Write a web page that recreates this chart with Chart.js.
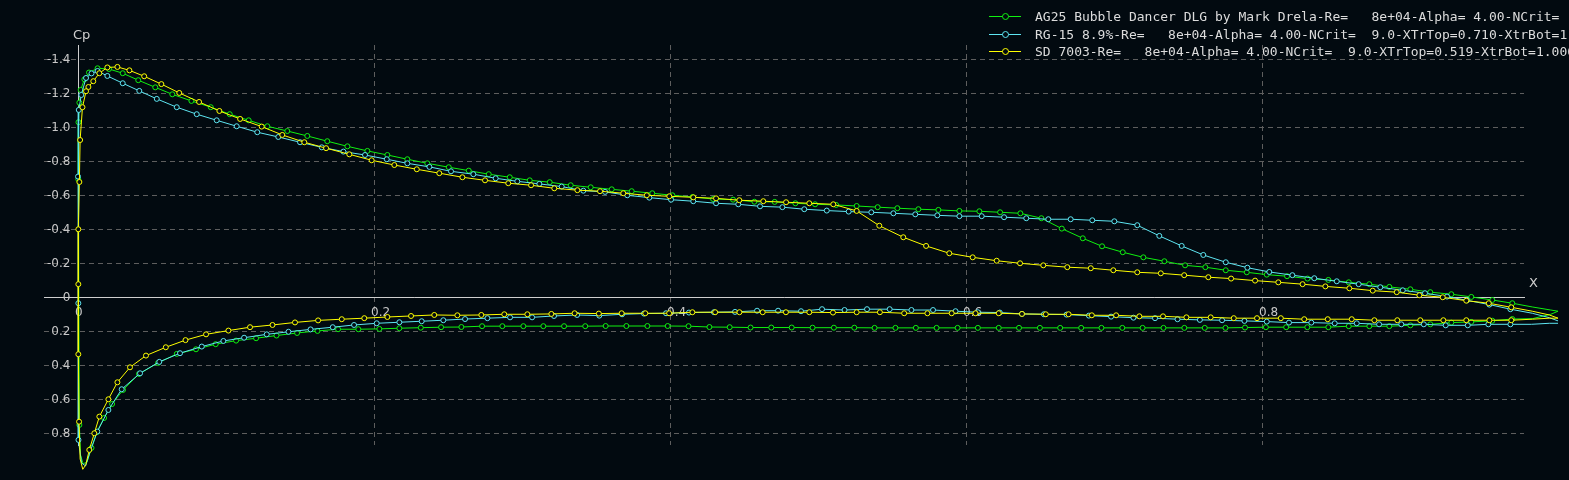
<!DOCTYPE html>
<html>
<head>
<meta charset="utf-8">
<title>Cp distribution</title>
<script src="https://cdn.jsdelivr.net/npm/chart.js@4/dist/chart.umd.min.js"></script>
<style>
  html, body { margin: 0; padding: 0; background: #020a10; overflow: hidden; }
  #wrap { position: relative; width: 1569px; height: 480px; overflow: hidden; }
  #legend { position: absolute; left: 989px; top: 8px; font: 13px 'DejaVu Sans Mono', monospace; color: #dcdcdc; white-space: pre; }
  .row { position: relative; height: 17.5px; line-height: 17.5px; padding-left: 46px; }
  .mk { position: absolute; left: 0; top: 8px; width: 32px; height: 1px; }
  .mk i { position: absolute; left: 13px; top: -3px; width: 5px; height: 5px; border: 1px solid; border-radius: 50%; background: #020a10; }
  .axl { position: absolute; font: 13px 'DejaVu Sans', sans-serif; color: #cfcfcf; }
</style>
</head>
<body>
<div id="wrap">
  <canvas id="cp-canvas"></canvas>
  <div id="legend"></div>
  <div class="axl" style="left:73px; top:27px;">Cp</div>
  <div class="axl" style="left:1529px; top:275px;">X</div>
</div>
<script>
// --- data (upper surface TE -> LE, then lower surface LE -> TE) ---
const ag25X = [
  1.000, 0.9951, 0.9826, 0.9691, 0.9556, 0.9414, 0.9279, 0.9137, 0.9002, 0.8860,
  0.8725, 0.8586, 0.8448, 0.8307, 0.8169, 0.8032, 0.7897, 0.7755, 0.7617, 0.7480,
  0.7340, 0.7198, 0.7059, 0.6919, 0.6789, 0.6647, 0.6509, 0.6367, 0.6230, 0.6090,
  0.5955, 0.5813, 0.5678, 0.5536, 0.5403, 0.5261, 0.5122, 0.4980, 0.4847, 0.4707,
  0.4570, 0.4426, 0.4291, 0.4152, 0.4016, 0.3880, 0.3741, 0.3606, 0.3464, 0.3329,
  0.3187, 0.3052, 0.2917, 0.2775, 0.2640, 0.2505, 0.2360, 0.2225, 0.2090, 0.1955,
  0.1820, 0.1684, 0.1549, 0.1414, 0.1279, 0.1153, 0.1025, 0.0897, 0.0766, 0.0637,
  0.0522, 0.0407, 0.0302, 0.0209, 0.0132, 0.0074, 0.0043, 0.0018, 0.0009, 0.0003,
  0.0002,
  0.0009, 0.0017, 0.0034, 0.0061, 0.0091, 0.0128, 0.0176, 0.0230, 0.0304, 0.0412,
  0.0541, 0.0667, 0.0797, 0.0930, 0.1068, 0.1203, 0.1341, 0.1480, 0.1618, 0.1757,
  0.1894, 0.2036, 0.2171, 0.2316, 0.2453, 0.2590, 0.2730, 0.2867, 0.3009, 0.3144,
  0.3284, 0.3427, 0.3565, 0.3705, 0.3847, 0.3984, 0.4125, 0.4266, 0.4403, 0.4544,
  0.4684, 0.4822, 0.4963, 0.5107, 0.5245, 0.5382, 0.5523, 0.5661, 0.5801, 0.5943,
  0.6080, 0.6221, 0.6358, 0.6499, 0.6636, 0.6778, 0.6915, 0.7056, 0.7193, 0.7334,
  0.7475, 0.7613, 0.7753, 0.7885, 0.8026, 0.8163, 0.8306, 0.8448, 0.8586, 0.8725,
  0.8860, 0.9002, 0.9137, 0.9279, 0.9414, 0.9556, 0.9691, 0.9826, 0.9951, 1.000
];
const ag25Cp = [
  0.078, 0.071, 0.053, 0.031, 0.012, -0.006, -0.022, -0.034, -0.051, -0.065,
  -0.081, -0.092, -0.106, -0.114, -0.128, -0.137, -0.151, -0.163, -0.181, -0.192,
  -0.216, -0.239, -0.269, -0.304, -0.351, -0.408, -0.469, -0.498, -0.504, -0.510,
  -0.512, -0.518, -0.522, -0.528, -0.534, -0.541, -0.547, -0.551, -0.557, -0.565,
  -0.566, -0.578, -0.582, -0.594, -0.604, -0.616, -0.628, -0.639, -0.651, -0.663,
  -0.681, -0.692, -0.710, -0.728, -0.749, -0.769, -0.792, -0.816, -0.841, -0.865,
  -0.892, -0.922, -0.953, -0.982, -1.010, -1.045, -1.081, -1.122, -1.159, -1.198,
  -1.239, -1.281, -1.322, -1.347, -1.351, -1.326, -1.286, -1.224, -1.149, -1.034,
  -0.698,
  0.747, 0.924, 0.976, 0.965, 0.882, 0.788, 0.706, 0.624, 0.541, 0.447,
  0.382, 0.329, 0.302, 0.272, 0.251, 0.237, 0.221, 0.206, 0.194, 0.184,
  0.184, 0.182, 0.178, 0.175, 0.172, 0.171, 0.166, 0.166, 0.166, 0.166,
  0.166, 0.166, 0.165, 0.165, 0.165, 0.165, 0.166, 0.171, 0.172, 0.174,
  0.174, 0.174, 0.175, 0.175, 0.175, 0.176, 0.176, 0.176, 0.176, 0.176,
  0.176, 0.176, 0.176, 0.176, 0.176, 0.176, 0.176, 0.176, 0.176, 0.176,
  0.176, 0.176, 0.176, 0.174, 0.172, 0.172, 0.172, 0.172, 0.166, 0.166,
  0.166, 0.161, 0.155, 0.145, 0.141, 0.134, 0.124, 0.122, 0.096, 0.078
];

const rg15X = [
  1.000, 0.9941, 0.9826, 0.9678, 0.9536, 0.9385, 0.9250, 0.9101, 0.8951, 0.8799,
  0.8653, 0.8505, 0.8353, 0.8205, 0.8049, 0.7901, 0.7755, 0.7603, 0.7457, 0.7306,
  0.7157, 0.7002, 0.6853, 0.6707, 0.6556, 0.6407, 0.6257, 0.6106, 0.5955, 0.5806,
  0.5657, 0.5509, 0.5360, 0.5207, 0.5059, 0.4907, 0.4759, 0.4608, 0.4461, 0.4311,
  0.4157, 0.4007, 0.3860, 0.3711, 0.3561, 0.3414, 0.3268, 0.3117, 0.2968, 0.2822,
  0.2671, 0.2520, 0.2374, 0.2225, 0.2086, 0.1939, 0.1793, 0.1647, 0.1500, 0.1353,
  0.1211, 0.1072, 0.0937, 0.0802, 0.0667, 0.0532, 0.0414, 0.0302, 0.0198, 0.0132,
  0.0091, 0.0054, 0.0022, 0.0005, 0.0000, 0.0002,
  0.0003, 0.0024, 0.0051, 0.0081, 0.0130, 0.0205, 0.0295, 0.0419, 0.0549, 0.0689,
  0.0836, 0.0982, 0.1122, 0.1275, 0.1422, 0.1571, 0.1721, 0.1865, 0.2018, 0.2171,
  0.2322, 0.2468, 0.2615, 0.2766, 0.2919, 0.3068, 0.3216, 0.3372, 0.3522, 0.3676,
  0.3824, 0.3973, 0.4128, 0.4297, 0.4439, 0.4588, 0.4730, 0.4885, 0.5027, 0.5179,
  0.5331, 0.5484, 0.5631, 0.5777, 0.5929, 0.6080, 0.6228, 0.6378, 0.6526, 0.6679,
  0.6830, 0.6980, 0.7131, 0.7277, 0.7429, 0.7580, 0.7730, 0.7881, 0.8032, 0.8182,
  0.8333, 0.8491, 0.8640, 0.8791, 0.8941, 0.9093, 0.9241, 0.9390, 0.9529, 0.9678,
  0.9820, 0.9941, 1.000
];
const rg15Cp = [
  0.135, 0.116, 0.090, 0.066, 0.039, 0.014, -0.008, -0.028, -0.045, -0.063,
  -0.081, -0.098, -0.116, -0.134, -0.153, -0.178, -0.210, -0.253, -0.306, -0.365,
  -0.428, -0.451, -0.457, -0.463, -0.463, -0.469, -0.475, -0.481, -0.481, -0.486,
  -0.492, -0.498, -0.504, -0.508, -0.514, -0.522, -0.534, -0.539, -0.551, -0.557,
  -0.569, -0.578, -0.590, -0.604, -0.624, -0.631, -0.655, -0.671, -0.686, -0.704,
  -0.728, -0.745, -0.771, -0.792, -0.816, -0.841, -0.861, -0.886, -0.916, -0.947,
  -0.975, -1.010, -1.045, -1.081, -1.122, -1.171, -1.218, -1.263, -1.306, -1.335,
  -1.321, -1.294, -1.194, -1.106, -0.714, 0.031,
  0.835, 0.971, 0.988, 0.906, 0.786, 0.659, 0.537, 0.443, 0.376, 0.325,
  0.286, 0.253, 0.234, 0.214, 0.199, 0.185, 0.172, 0.159, 0.149, 0.143,
  0.137, 0.131, 0.124, 0.119, 0.114, 0.114, 0.106, 0.100, 0.104, 0.096,
  0.092, 0.090, 0.086, 0.084, 0.082, 0.075, 0.075, 0.078, 0.066, 0.071,
  0.066, 0.066, 0.071, 0.071, 0.078, 0.084, 0.086, 0.094, 0.096, 0.098,
  0.104, 0.110, 0.116, 0.119, 0.125, 0.129, 0.131, 0.135, 0.139, 0.145,
  0.145, 0.149, 0.149, 0.155, 0.155, 0.155, 0.161, 0.161, 0.155, 0.155,
  0.155, 0.149, 0.149
];

const sd7003X = [
  1.000, 0.9941, 0.9826, 0.9684, 0.9532, 0.9380, 0.9221, 0.9063, 0.8910, 0.8748,
  0.8590, 0.8428, 0.8274, 0.8110, 0.7953, 0.7791, 0.7637, 0.7474, 0.7316, 0.7157,
  0.6995, 0.6843, 0.6684, 0.6522, 0.6365, 0.6207, 0.6045, 0.5887, 0.5730, 0.5576,
  0.5414, 0.5261, 0.5103, 0.4941, 0.4784, 0.4630, 0.4468, 0.4311, 0.4157, 0.3995,
  0.3843, 0.3684, 0.3527, 0.3374, 0.3218, 0.3061, 0.2907, 0.2750, 0.2597, 0.2441,
  0.2289, 0.2137, 0.1984, 0.1833, 0.1676, 0.1529, 0.1380, 0.1241, 0.1095, 0.0955,
  0.0818, 0.0684, 0.0563, 0.0447, 0.0347, 0.0266, 0.0198, 0.0144, 0.0103, 0.0070,
  0.0054, 0.0030, 0.0014, 0.0009, 0.0002, 0.0002, 0.0002, 0.0007, 0.0014,
  0.0032, 0.0052, 0.0076, 0.0110, 0.0144, 0.0205, 0.0266, 0.0351, 0.0459, 0.0593,
  0.0726, 0.0865, 0.1016, 0.1162, 0.1314, 0.1466, 0.1622, 0.1782, 0.1934, 0.2090,
  0.2250, 0.2407, 0.2563, 0.2725, 0.2880, 0.3036, 0.3198, 0.3355, 0.3519, 0.3673,
  0.3833, 0.3994, 0.4151, 0.4305, 0.4469, 0.4626, 0.4783, 0.4941, 0.5101, 0.5261,
  0.5418, 0.5582, 0.5739, 0.5903, 0.6064, 0.6221, 0.6378, 0.6539, 0.6693, 0.6850,
  0.7014, 0.7171, 0.7331, 0.7489, 0.7653, 0.7809, 0.7966, 0.8127, 0.8285, 0.8444,
  0.8606, 0.8759, 0.8914, 0.9069, 0.9225, 0.9380, 0.9536, 0.9684, 0.9826, 0.9941,
  1.000
];
const sd7003Cp = [
  0.119, 0.100, 0.078, 0.055, 0.031, 0.016, -0.004, -0.016, -0.034, -0.043,
  -0.057, -0.068, -0.081, -0.092, -0.102, -0.114, -0.122, -0.134, -0.145, -0.151,
  -0.163, -0.175, -0.181, -0.192, -0.204, -0.219, -0.239, -0.263, -0.306, -0.357,
  -0.425, -0.512, -0.551, -0.557, -0.563, -0.569, -0.575, -0.586, -0.592, -0.598,
  -0.604, -0.616, -0.628, -0.634, -0.645, -0.663, -0.675, -0.692, -0.710, -0.734,
  -0.757, -0.782, -0.810, -0.845, -0.881, -0.916, -0.959, -1.008, -1.053, -1.100,
  -1.153, -1.206, -1.258, -1.304, -1.339, -1.359, -1.356, -1.322, -1.275, -1.241,
  -1.216, -1.122, -0.929, -0.682, -0.404, -0.081, 0.331, 0.728, 0.947,
  1.008, 0.982, 0.894, 0.796, 0.698, 0.596, 0.496, 0.408, 0.339, 0.290,
  0.248, 0.214, 0.192, 0.172, 0.159, 0.144, 0.132, 0.125, 0.119, 0.112,
  0.106, 0.100, 0.102, 0.100, 0.096, 0.096, 0.094, 0.090, 0.092, 0.090,
  0.090, 0.090, 0.084, 0.084, 0.084, 0.084, 0.084, 0.084, 0.086, 0.084,
  0.084, 0.090, 0.090, 0.090, 0.090, 0.090, 0.094, 0.096, 0.096, 0.102,
  0.102, 0.108, 0.108, 0.114, 0.114, 0.119, 0.119, 0.119, 0.125, 0.125,
  0.125, 0.131, 0.131, 0.131, 0.131, 0.131, 0.131, 0.131, 0.125, 0.119,
  0.119
];

const seriesLabels = [
  'AG25 Bubble Dancer DLG by Mark Drela-Re=   8e+04-Alpha= 4.00-NCrit=',
  'RG-15 8.9%-Re=   8e+04-Alpha= 4.00-NCrit=  9.0-XTrTop=0.710-XtrBot=1',
  'SD 7003-Re=   8e+04-Alpha= 4.00-NCrit=  9.0-XTrTop=0.519-XtrBot=1.000'
];
const seriesColors = ['#10f010', '#5ee6f2', '#ffff00'];

const xTicks = [0, 0.2, 0.4, 0.6, 0.8];
const yTicks = [-1.4, -1.2, -1.0, -0.8, -0.6, -0.4, -0.2, 0, 0.2, 0.4, 0.6, 0.8];

const BG = '#020a10';
const X_MIN = -0.023, X_MAX = 0.977;
const Y_MIN = -1.488, Y_MAX = 0.865;

const toPts = (xs, ys) => xs.map((x, i) => ({ x, y: ys[i] }));
const seriesData = [toPts(ag25X, ag25Cp), toPts(rg15X, rg15Cp), toPts(sd7003X, sd7003Cp)];
const drawOrder = [2, 1, 0]; // yellow on top, then cyan, then green

const datasets = seriesData.map((data, i) => ({
  label: seriesLabels[i],
  data,
  showLine: true,
  tension: 0,
  borderColor: seriesColors[i],
  borderWidth: 1,
  backgroundColor: BG,
  pointRadius: 2.5,
  pointBorderWidth: 1,
  pointBorderColor: seriesColors[i],
  pointBackgroundColor: BG,
  clip: false,
  order: drawOrder[i]
}));

// legend as plain html
const legendEl = document.getElementById('legend');
seriesLabels.forEach((lbl, i) => {
  const row = document.createElement('div');
  row.className = 'row';
  row.innerHTML = `<span class="mk" style="background:${seriesColors[i]}"><i style="border-color:${seriesColors[i]}"></i></span>`;
  row.appendChild(document.createTextNode(lbl));
  legendEl.appendChild(row);
});

const tickFmt = v => v === 0 ? '0' : v.toFixed(1);
const tickFont = { family: 'DejaVu Sans', size: 12 };

new Chart(document.getElementById('cp-canvas'), {
  type: 'scatter',
  data: { datasets },
  options: {
    responsive: true, maintainAspectRatio: false,
    animation: false,
    events: [],
    layout: { padding: { left: 44, right: 45, top: 45, bottom: 35 } },
    plugins: { legend: { display: false }, tooltip: { enabled: false } },
    scales: {
      x: {
        type: 'linear', min: X_MIN, max: X_MAX,
        position: { y: 0 },
        afterBuildTicks: s => { s.ticks = xTicks.map(v => ({ value: v })); },
        grid: { drawTicks: false, color: c => (c.tick && c.tick.value === 0) ? 'rgba(0,0,0,0)' : '#5e5e5e' },
        border: { display: true, color: '#cfcfcf', width: 1, dash: [5, 4] },
        ticks: { autoSkip: false, maxRotation: 0, align: 'start', labelOffset: -3, padding: 8,
                 color: '#c8c8c8', font: tickFont, callback: tickFmt }
      },
      y: {
        type: 'linear', reverse: true, min: Y_MIN, max: Y_MAX,
        position: { x: 0 },
        afterBuildTicks: s => { s.ticks = yTicks.map(v => ({ value: v })); },
        grid: { drawTicks: false, color: '#5e5e5e' },
        border: { display: true, color: '#cfcfcf', width: 1, dash: [5, 4] },
        // trailing spaces keep the right-aligned labels clear of the axis line
        ticks: { autoSkip: false, padding: 0, color: '#c8c8c8', font: tickFont,
                 callback: v => tickFmt(v) + '  ' }
      }
    }
  }
});
</script>
</div>
</body>
</html>
